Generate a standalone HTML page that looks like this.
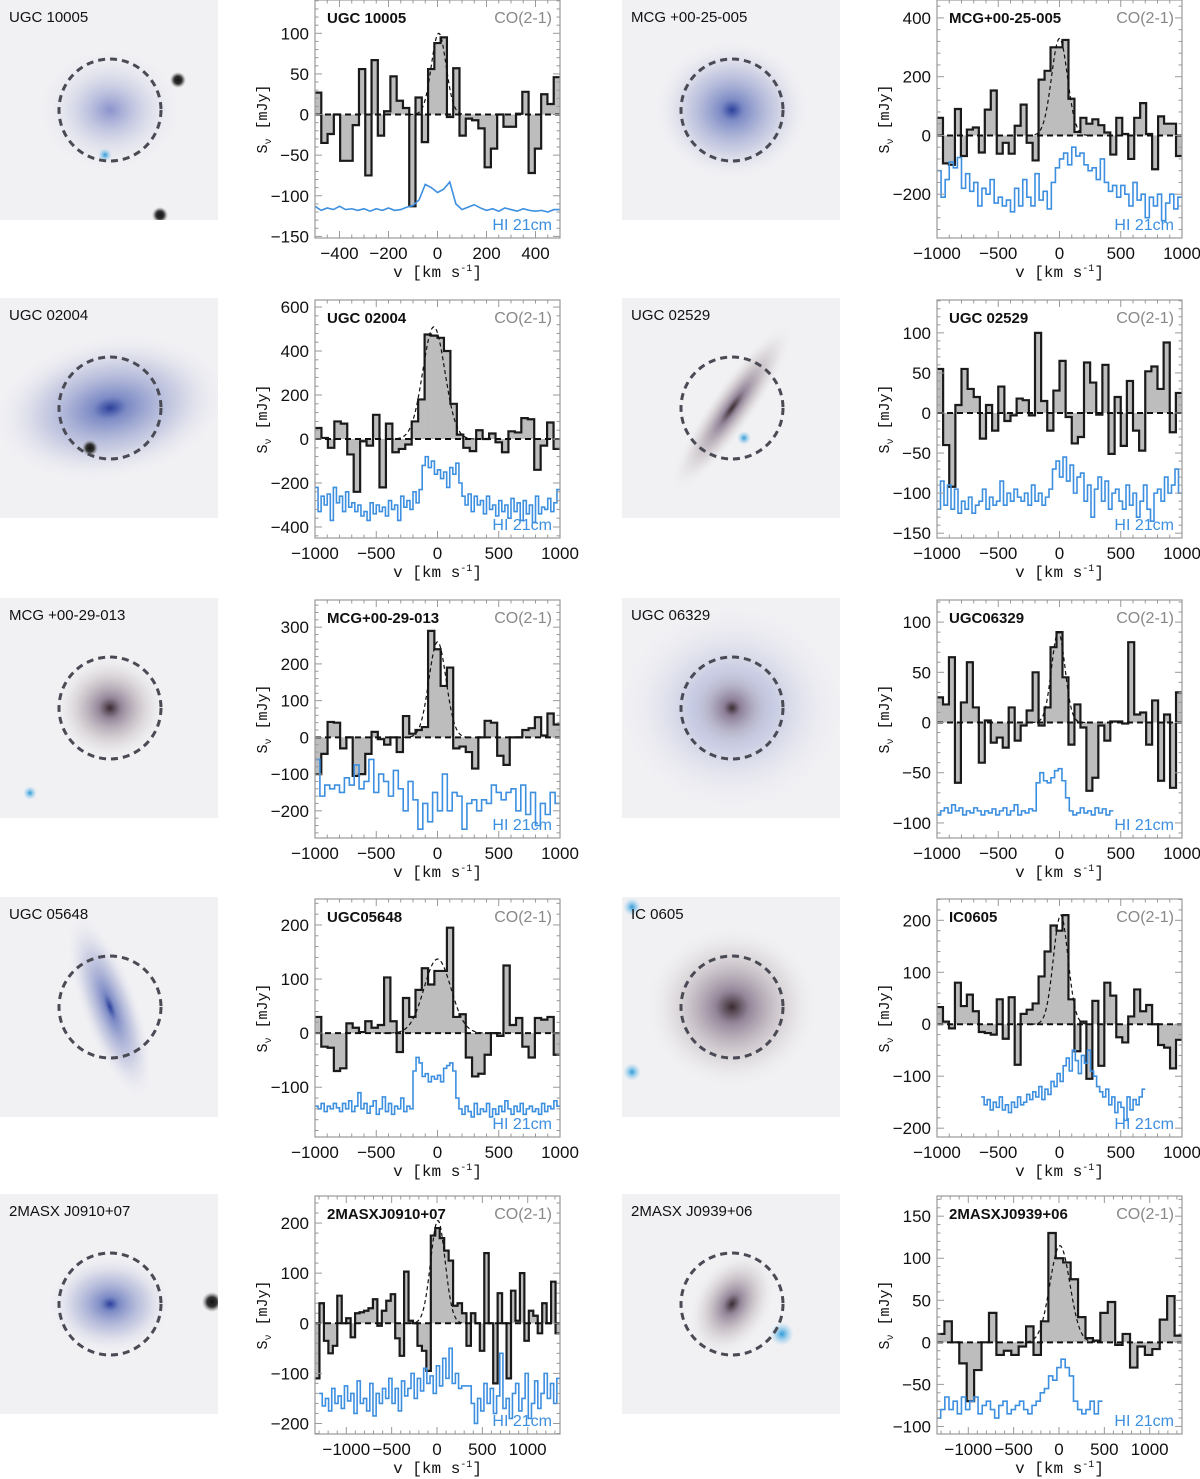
<!DOCTYPE html>
<html><head><meta charset="utf-8"><style>
html,body{margin:0;padding:0;background:#fff;}
svg{display:block;font-family:"Liberation Sans",sans-serif;}
</style></head><body>
<svg id="fig" width="1200" height="1479" viewBox="0 0 1200 1479" xmlns="http://www.w3.org/2000/svg">
<defs>
<radialGradient id="gBlue"><stop offset="0" stop-color="#2a3f9a"/><stop offset="0.15" stop-color="#6f7fc0" stop-opacity="0.9"/><stop offset="0.6" stop-color="#a8aed3" stop-opacity="0.5"/><stop offset="1" stop-color="#dfe0ea" stop-opacity="0"/></radialGradient>
<radialGradient id="gFaint"><stop offset="0" stop-color="#8a93cc"/><stop offset="0.5" stop-color="#c4c8e0" stop-opacity="0.6"/><stop offset="1" stop-color="#e8e8ee" stop-opacity="0"/></radialGradient>
<radialGradient id="gBrown"><stop offset="0" stop-color="#3a2a30"/><stop offset="0.2" stop-color="#8a7a90" stop-opacity="0.9"/><stop offset="0.6" stop-color="#bdb3b8" stop-opacity="0.5"/><stop offset="1" stop-color="#e6e3e3" stop-opacity="0"/></radialGradient>
<radialGradient id="gStar"><stop offset="0" stop-color="#111"/><stop offset="0.5" stop-color="#333"/><stop offset="1" stop-color="#888" stop-opacity="0"/></radialGradient>
<radialGradient id="gCyan"><stop offset="0" stop-color="#2b9ad8"/><stop offset="1" stop-color="#9fd0ee" stop-opacity="0"/></radialGradient>
</defs>
<g id="images"></g>
<g id="plots"></g>
</svg>
<script>
// ---- data arrays (CO histograms, HI spectra, fit params) ----
const co1 = [27,-35,-24,0,-57,-57,-13,56,-75,67,-26,4,47,17,8,-113,21,-34,56,88,95,-3,57,-26,-5,-7,-17,-65,-42,0,-15,-15,1,28,-72,-42,25,13,46];
const hi1 = [-113,-118,-115,-117,-113,-117,-116,-118,-116,-119,-116,-118,-115,-118,-117,-114,-112,-105,-86,-90,-96,-92,-83,-110,-117,-114,-111,-115,-118,-116,-119,-115,-117,-119,-116,-118,-119,-118,-120,-117,-117];
const co2 = [60,-95,-100,90,-70,20,27,-58,88,153,-62,-25,-62,33,105,-25,-85,190,220,300,300,325,125,12,60,40,55,35,10,-65,60,5,-80,60,110,5,-115,65,40,40,-70];
const hi2 = [-120,-210,-150,-90,-110,-75,-180,-130,-190,-160,-240,-180,-200,-150,-230,-210,-240,-220,-260,-180,-240,-150,-210,-240,-130,-220,-190,-250,-160,-110,-80,-60,-100,-40,-70,-60,-100,-120,-110,-150,-80,-160,-190,-170,-210,-170,-200,-240,-160,-220,-200,-280,-210,-240,-200,-290,-230,-200,-250,-210];
const co3 = [50,5,-40,80,70,-70,-240,-10,-30,110,-220,70,-60,-45,-25,80,180,475,470,460,400,160,20,-40,-55,40,0,25,-15,-60,35,30,95,90,-140,-30,75,-45];
const hi3 = [-220,-330,-260,-300,-250,-370,-220,-290,-260,-330,-240,-310,-290,-330,-300,-350,-330,-370,-290,-340,-300,-330,-310,-350,-280,-320,-300,-370,-260,-310,-280,-320,-240,-290,-230,-120,-80,-130,-100,-160,-140,-180,-150,-220,-130,-160,-110,-200,-260,-300,-250,-330,-260,-300,-280,-340,-260,-320,-300,-350,-280,-330,-300,-360,-270,-330,-290,-370,-280,-340,-300,-380,-260,-340,-310,-320,-270,-330,-290,-230];
const co4 = [55,-40,-92,10,55,30,20,-32,10,-22,33,-10,-3,18,16,-3,100,15,-22,28,65,-5,-38,-30,63,38,-2,60,-51,20,-41,40,-22,-47,52,58,30,88,-24,25];
const hi4 = [-120,-85,-115,-90,-120,-95,-125,-110,-120,-105,-125,-115,-110,-95,-120,-105,-115,-110,-85,-115,-100,-110,-95,-105,-110,-100,-115,-90,-110,-100,-115,-105,-95,-70,-60,-80,-55,-85,-65,-100,-80,-75,-110,-90,-130,-95,-80,-110,-85,-120,-100,-95,-110,-120,-90,-115,-100,-130,-110,-90,-120,-135,-100,-95,-110,-80,-100,-90,-70,-100];
const co5 = [-100,-45,42,40,-30,0,-105,-100,-45,15,-5,-20,0,-40,58,10,20,28,290,240,140,190,-30,-25,-40,-85,0,45,40,-50,-75,0,0,20,25,55,5,65,35];
const hi5 = [-60,-160,-130,-140,-130,-150,-110,-130,-75,-140,-120,-60,-150,-100,-120,-160,-90,-140,-200,-120,-170,-250,-180,-230,-150,-200,-100,-200,-150,-160,-250,-180,-170,-200,-170,-180,-130,-150,-170,-150,-140,-200,-130,-210,-150,-240,-180,-210,-150,-180];
const co6 = [25,18,65,-60,20,60,15,-40,2,-20,-15,-25,15,-18,-3,12,50,-3,15,75,90,45,-22,18,-5,-68,-55,-3,-18,1,1,-1,80,8,10,-22,22,-58,8,-65,30];
const hi6 = [-92,-88,-85,-90,-82,-88,-85,-92,-88,-90,-85,-88,-92,-88,-90,-86,-92,-88,-85,-92,-88,-82,-92,-88,-90,-86,-88,-60,-50,-58,-60,-55,-48,-46,-58,-75,-88,-92,-90,-85,-90,-88,-92,-85,-90,-86,-92,-88];
const co7 = [30,-25,-27,-70,-65,18,10,2,22,10,15,103,22,-35,65,30,80,120,90,115,115,195,30,35,-45,-80,-75,-40,0,-5,125,15,28,-25,-45,28,25,30,-40];
const hi7 = [-135,-140,-130,-145,-135,-140,-130,-138,-145,-130,-140,-125,-145,-135,-110,-140,-130,-148,-135,-125,-150,-140,-118,-145,-130,-150,-135,-140,-120,-145,-135,-140,-70,-45,-55,-80,-75,-90,-80,-85,-78,-90,-65,-60,-55,-70,-120,-140,-150,-135,-145,-155,-130,-150,-140,-145,-130,-155,-140,-150,-135,-145,-125,-140,-150,-135,-145,-130,-150,-140,-135,-145,-140,-150,-130,-145,-135,-140,-125,-135];
const co8 = [33,5,-8,80,35,57,25,-15,-17,-20,48,-28,52,-78,20,28,40,92,140,190,180,210,48,-52,5,-105,45,-80,80,55,-25,-35,15,67,25,37,0,-40,-45,-85,-30];
const hi8 = [-140,-155,-145,-165,-150,-160,-140,-165,-155,-170,-150,-160,-140,-155,-150,-135,-145,-130,-140,-120,-145,-125,-135,-110,-120,-95,-110,-80,-65,-90,-50,-70,-95,-60,-75,-50,-90,-100,-120,-130,-140,-125,-155,-140,-170,-150,-160,-185,-140,-165,-145,-155,-140,-125];
const co9 = [-110,40,-35,-60,-45,55,0,10,-28,20,22,25,30,48,-5,25,45,58,-30,-65,103,5,0,-45,-55,-95,175,190,170,145,125,35,40,20,-45,20,0,-55,140,0,-120,60,0,-110,65,5,100,-35,25,15,-20,40,0,83,-20];
const hi9 = [-140,-165,-150,-175,-130,-160,-145,-170,-125,-155,-140,-180,-115,-160,-150,-175,-120,-185,-140,-160,-130,-150,-110,-160,-130,-175,-115,-145,-130,-100,-150,-110,-135,-90,-120,-105,-140,-85,-125,-70,-110,-50,-120,-100,-130,-125,-125,-125,-160,-200,-150,-175,-120,-160,-130,-180,-145,-60,-170,-150,-190,-140,-120,-175,-150,-100,-190,-160,-115,-170,-140,-100,-150,-120,-160,-110];
const co10 = [10,25,0,-25,-70,-33,0,35,-15,-10,-15,-5,19,-15,25,130,100,95,75,30,5,2,35,48,-3,10,-30,-5,-15,-8,27,55,8];
const hi10 = [-90,-80,-65,-80,-70,-85,-65,-80,-70,-65,-85,-75,-70,-80,-90,-75,-70,-85,-80,-75,-70,-80,-85,-75,-70,-60,-55,-40,-45,-30,-20,-30,-40,-70,-80,-85,-80,-70,-85,-70];
const names = ["UGC 10005","MCG+00-25-005","UGC 02004","UGC 02529","MCG+00-29-013","UGC06329","UGC05648","IC0605","2MASXJ0910+07","2MASXJ0939+06"];
const imgNames = ["UGC 10005","MCG +00-25-005","UGC 02004","UGC 02529","MCG +00-29-013","UGC 06329","UGC 05648","IC 0605","2MASX J0910+07","2MASX J0939+06"];
const fitAmp = [100,330,510,0,260,90,137,210,205,115];
const fitCen = [5,0,-30,0,0,-10,0,10,10,10];
const fitSig = [30,65,90,0,70,55,110,60,80,110];
const vMin = [-500,-1000,-1000,-1000,-1000,-1000,-1000,-1000,-1345,-1345];
const vMax = [500,1000,1000,1000,1000,1000,1000,1000,1356,1356];
const hiStart = [-500,-1000,-1000,-1000,-1000,-1000,-1000,-640,-1300,-1350];
const hiEnd = [500,1000,1000,1000,1000,440,1000,700,1356,480];
const yMin = [-152,-349,-450,-156,-274,-115,-192,-217,-221,-109];
const yMax = [141,461,632,141,374,122,248,241,254,174];
const yTicks = [[-150,-100,-50,0,50,100],[-200,0,200,400],[-400,-200,0,200,400,600],[-150,-100,-50,0,50,100],[-200,-100,0,100,200,300],[-100,-50,0,50,100],[-100,0,100,200],[-200,-100,0,100,200],[-200,-100,0,100,200],[-100,-50,0,50,100,150]];
const xTicks = [[-400,-200,0,200,400],[-1000,-500,0,500,1000],[-1000,-500,0,500,1000],[-1000,-500,0,500,1000],[-1000,-500,0,500,1000],[-1000,-500,0,500,1000],[-1000,-500,0,500,1000],[-1000,-500,0,500,1000],[-1000,-500,0,500,1000],[-1000,-500,0,500,1000]];
const coData = [co1,co2,co3,co4,co5,co6,co7,co8,co9,co10];
const hiData = [hi1,hi2,hi3,hi4,hi5,hi6,hi7,hi8,hi9,hi10];

const NS = "http://www.w3.org/2000/svg";
function mk(tag, attrs, parent){const e=document.createElementNS(NS,tag);for(const k in attrs)e.setAttribute(k,attrs[k]);parent.appendChild(e);return e;}
const plotsG = document.getElementById('plots');
const imgG = document.getElementById('images');
const rowTop = [0,300,600,899,1196];
const colX = [315,937];
const W = 245, H = 238;

for (let i=0;i<10;i++){
  const r = Math.floor(i/2), c = i%2;
  const x0 = colX[c], y0 = rowTop[r];
  const sx = v => x0 + (v - vMin[i])/(vMax[i]-vMin[i])*W;
  const sy = f => y0 + (yMax[i]-f)/(yMax[i]-yMin[i])*H;
  const g = mk('g',{},plotsG);
  
  
  const clipId='clip'+i;
  const cp = mk('clipPath',{id:clipId},g); mk('rect',{x:x0,y:y0,width:W,height:H},cp);
  const inner = mk('g',{'clip-path':'url(#'+clipId+')'},g);
  const co = coData[i]; const bw=(vMax[i]-vMin[i])/co.length;
  const z = sy(0);
  const fillG = mk('g',{},inner);
  
  
  let d='';
  co.forEach((val,k)=>{
    const xa=sx(vMin[i]+k*bw), xb=sx(vMin[i]+(k+1)*bw), yv=sy(val);
    const rc = mk('rect',{x:xa,y:Math.min(yv,z),width:xb-xa+0.3,height:Math.abs(z-yv),fill:'#bdbdbd'},fillG);
    
    
    d += (k===0?'M':'L')+xa+','+yv+'L'+xb+','+yv;
  });
  const step = mk('path',{d:d,fill:'none',stroke:'#1a1a1a','stroke-width':2.2},inner);
  
  
  const zl = mk('line',{x1:x0,x2:x0+W,y1:z,y2:z,stroke:'#111','stroke-width':2,'stroke-dasharray':'6,4'},inner);
  
  
  if (fitAmp[i]>0){
    let fd='';
    for(let v=fitCen[i]-4*fitSig[i]; v<=fitCen[i]+4*fitSig[i]; v+=fitSig[i]/10){
      const f=fitAmp[i]*Math.exp(-0.5*Math.pow((v-fitCen[i])/fitSig[i],2));
      fd+=(fd?'L':'M')+sx(v)+','+sy(f);
    }
    const fp = mk('path',{d:fd,fill:'none',stroke:'#111','stroke-width':1.2,'stroke-dasharray':'4,3'},inner);
    
    
  }
  const hi = hiData[i]; const hs=(hiEnd[i]-hiStart[i])/hi.length;
  let hd='';
  if (i===0){
    hi.forEach((val,k)=>{ hd+=(k?'L':'M')+sx(hiStart[i]+k*(hiEnd[i]-hiStart[i])/(hi.length-1))+','+sy(val); });
  } else {
    hi.forEach((val,k)=>{ const xa=sx(hiStart[i]+k*hs), xb=sx(hiStart[i]+(k+1)*hs); hd+=(k?'L':'M')+xa+','+sy(val)+'L'+xb+','+sy(val); });
  }
  const hp = mk('path',{d:hd,fill:'none',stroke:'#3d8fe0','stroke-width':1.6},inner);
  
  
  const fr = mk('rect',{x:x0,y:y0,width:W,height:H,fill:'none',stroke:'#999','stroke-width':1.2},g);
  
  
  const tickG = mk('g',{stroke:'#999','stroke-width':1},g);
  const xminor = (vMax[i]-vMin[i])>1500 ? 100 : 50;
  for(let v=Math.ceil(vMin[i]/xminor)*xminor; v<=vMax[i]; v+=xminor){
    const len = xTicks[i].includes(v)?7:3.5;
    mk('line',{x1:sx(v),x2:sx(v),y1:y0+H,y2:y0+H-len},tickG);
    mk('line',{x1:sx(v),x2:sx(v),y1:y0,y2:y0+len},tickG);
  }
  const yt=yTicks[i]; const ystep=(yt[1]-yt[0])/5;
  for(let f=Math.ceil(yMin[i]/ystep)*ystep; f<=yMax[i]; f+=ystep){
    const len = yt.some(t=>Math.abs(t-f)<1e-6)?7:3.5;
    mk('line',{x1:x0,x2:x0+len,y1:sy(f),y2:sy(f)},tickG);
    mk('line',{x1:x0+W,x2:x0+W-len,y1:sy(f),y2:sy(f)},tickG);
  }
  yt.forEach(t=>{
    const tx = mk('text',{x:x0-6,y:sy(t)+6,'text-anchor':'end','font-size':17,fill:'#111'},g);
    tx.textContent = String(t).replace('-','\u2212');
    
    
  });
  xTicks[i].forEach(t=>{
    const tx = mk('text',{x:sx(t),y:y0+H+21,'text-anchor':'middle','font-size':17,fill:'#111'},g);
    tx.textContent = String(t).replace('-','\u2212');
    
    
  });
  const xt = mk('text',{x:x0+W/2,y:y0+H+39,'text-anchor':'middle','font-size':16,fill:'#111','font-family':'Liberation Mono, monospace'},g);
  xt.innerHTML = 'v [km s<tspan dy="-6" font-size="10">-1</tspan><tspan dy="6">]</tspan>';
  
  
  const yl = mk('text',{x:0,y:0,'text-anchor':'middle','font-size':15,fill:'#111','font-family':'Liberation Mono, monospace',transform:'translate('+(x0-48)+','+(y0+H/2)+') rotate(-90)'},g);
  yl.innerHTML = 'S<tspan dy="4" font-size="10">\u03bd</tspan><tspan dy="-4"> [mJy]</tspan>';
  
  
  const nm = mk('text',{x:x0+12,y:y0+23,'font-size':15,'font-weight':'bold',fill:'#111'},g);
  nm.textContent = names[i];
  
  
  const cl = mk('text',{x:x0+W-8,y:y0+23,'text-anchor':'end','font-size':16,fill:'#888'},g);
  cl.textContent = 'CO(2-1)';
  
  
  const hl = mk('text',{x:x0+W-8,y:y0+H-8,'text-anchor':'end','font-size':16,fill:'#3d8fe0'},g);
  hl.textContent = 'HI 21cm';
  
  

  const ix = c===0?0:622, iy = r===0?0:rowTop[r]-2;
  const ig = mk('g',{},imgG);
  
  
  const icp = mk('clipPath',{id:'ic'+i},ig); mk('rect',{x:ix,y:iy,width:218,height:220},icp);
  const ii = mk('g',{'clip-path':'url(#ic'+i+')'},ig);
  mk('rect',{x:ix,y:iy,width:218,height:220,fill:'#f1f1f4'},ii);
  const cx=ix+110, cy=iy+110;
  const blobs = [
    [['gFaint',cx,cy,70,60,0],['gStar',ix+178,iy+80,8,8,0],['gStar',ix+160,iy+215,8,8,0],['gCyan',ix+105,iy+155,7,7,0]],
    [['gBlue',cx,cy,75,68,0]],
    [['gBlue',cx,cy,115,70,-10],['gStar',ix+90,iy+150,8,8,0]],
    [['gBrown',cx,cy,100,22,-55],['gCyan',ix+122,iy+140,7,7,0]],
    [['gBrown',cx,cy,55,52,0],['gCyan',ix+30,iy+195,7,7,0]],
    [['gFaint',cx,cy,110,100,0],['gBrown',cx,cy,40,40,0]],
    [['gBlue',cx,cy,95,28,70]],
    [['gBrown',cx,cy,85,80,0],['gCyan',ix+10,iy+10,9,9,0],['gCyan',ix+10,iy+175,9,9,0]],
    [['gBlue',cx,cy,60,48,0],['gStar',ix+212,iy+108,10,10,0]],
    [['gBrown',cx,cy,55,38,-60],['gCyan',ix+160,iy+140,12,12,0]]
  ][i];
  blobs.forEach(b=>{ mk('ellipse',{cx:b[1],cy:b[2],rx:b[3],ry:b[4],fill:'url(#'+b[0]+')',transform:'rotate('+b[5]+' '+b[1]+' '+b[2]+')'},ii); });
  const circ = mk('circle',{cx:cx,cy:cy,r:51,fill:'none',stroke:'#4a4a55','stroke-width':3,'stroke-dasharray':'7,5'},ii);
  
  
  const it = mk('text',{x:ix+9,y:iy+22,'font-size':15,fill:'#111'},ii);
  it.textContent = imgNames[i];
  
  
}
</script>
</body></html>
